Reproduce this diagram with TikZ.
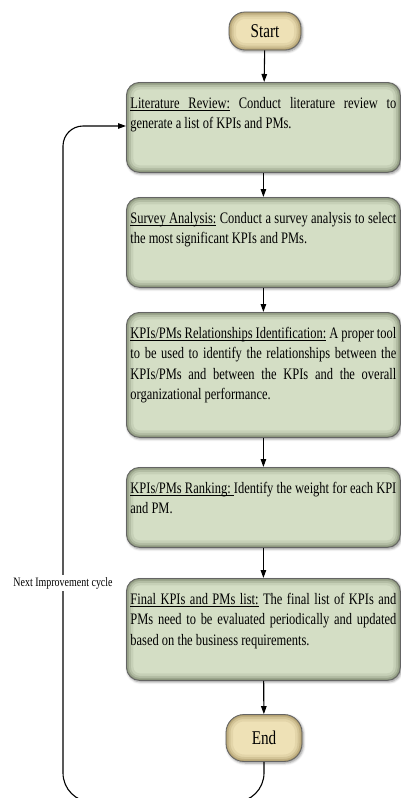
\documentclass[tikz,border=0pt]{standalone}
\usepackage{fontspec}
\setmainfont{Liberation Serif}[FakeStretch=0.78]
\usetikzlibrary{arrows.meta,shadows.blur}

\definecolor{sagein}{RGB}{212,222,197}
\definecolor{sageedge}{RGB}{105,115,90}
\definecolor{tanin}{RGB}{238,225,182}
\definecolor{tanedge}{RGB}{150,130,80}
\definecolor{rimgray}{RGB}{100,100,100}

% underlined word, and an underlined space that still stretches when justified
\newcommand{\ulw}[1]{\setbox0\hbox{#1}\rlap{\rule[-2.2pt]{\wd0}{0.75pt}}\box0\relax}
\newcommand{\uls}{\leaders\hrule height -1.45pt depth 2.2pt\hskip\fontdimen2\font plus\fontdimen3\font minus\fontdimen4\font\relax}

% step text: top-aligned justified paragraph in a box of fixed height
\newcommand{\steptext}[2]{\parbox[c][#1][t]{266pt}{\fontsize{16pt}{20.5pt}\selectfont\tolerance=9999\rule{0pt}{26pt}#2}}

\tikzset{
  glow/.style 2 args={path picture={
    \foreach \w/\o in {2/0.45,5/0.3,9/0.2,14/0.12}{
      \draw[draw=#1,line width=\w pt,draw opacity=\o,rounded corners=#2]
        (path picture bounding box.south west) rectangle (path picture bounding box.north east);}}},
  softshadow/.style={blur shadow={shadow xshift=1.2pt,shadow yshift=-1.5pt,shadow blur radius=2.5pt,shadow opacity=45}},
  stepbox/.style={draw=rimgray,line width=0.8pt,fill=sagein,rounded corners=13pt,
    inner xsep=4pt,inner ysep=0pt,glow={sageedge}{13pt},softshadow,anchor=north west},
  term/.style={draw=rimgray,line width=0.8pt,fill=tanin,rounded corners=#1,glow={tanedge}{#1},
    softshadow,font=\fontsize{19.5pt}{19.5pt}\selectfont,inner sep=0pt},
  arr/.style={-{Triangle[length=8pt,width=5.5pt]},line width=1.1pt},
}

\begin{document}
\begin{tikzpicture}[x=1pt,y=-1pt]
\useasboundingbox (0,0) rectangle (401,798);

\node[term=16pt,minimum width=72pt,minimum height=38pt] (start) at (265,31) {Start};

\node[stepbox] (lit) at (126,82) {\steptext{90pt}{\ulw{Literature}\uls\ulw{Review:} Conduct literature review to\linebreak generate a list of KPIs and PMs.}};

\node[stepbox] (survey) at (126,197) {\steptext{90pt}{\ulw{Survey}\uls\ulw{Analysis:} Conduct a survey analysis to select\linebreak the most significant KPIs and PMs.}};

\node[stepbox] (rel) at (126,312) {\steptext{125pt}{\ulw{KPIs/PMs}\uls\ulw{Relationships}\uls\ulw{Identification:} A proper tool\linebreak to be used to identify the relationships between the\linebreak KPIs/PMs and between the KPIs and the overall\linebreak organizational performance.}};

\node[stepbox] (rank) at (126,467) {\steptext{80pt}{\ulw{KPIs/PMs}\uls\ulw{Ranking:}\uls Identify the weight for each KPI\linebreak and PM.}};

\node[stepbox] (final) at (126,578) {\steptext{102pt}{\ulw{Final}\uls\ulw{KPIs}\uls\ulw{and}\uls\ulw{PMs}\uls\ulw{list:} The final list of KPIs and\linebreak PMs need to be evaluated periodically and updated\linebreak based on the business requirements.}};

\node[term=18pt,minimum width=76pt,minimum height=47pt] (end) at (264,738) {End};

\draw[arr] (start) -- (lit);
\draw[arr] (lit) -- (survey);
\draw[arr] (survey) -- (rel);
\draw[arr] (rel) -- (rank);
\draw[arr] (rank) -- (final);
\draw[arr] (final) -- (end);

% feedback loop back to the first step
\coordinate (bl) at (63,802);
\coordinate (br) at (end.south |- bl);
\coordinate (tl) at (63,126);
\coordinate (lin) at (lit.west |- tl);
\draw[arr,rounded corners=29pt] (end.south) -- (br) -- (bl) [rounded corners=20pt] -- (tl) -- (lin);

\node[font=\fontsize{12.8pt}{12.8pt}\selectfont,fill=white,inner xsep=1pt,inner ysep=2pt] (cycle) at (63,583) {Next Improvement cycle};
\end{tikzpicture}
\end{document}
